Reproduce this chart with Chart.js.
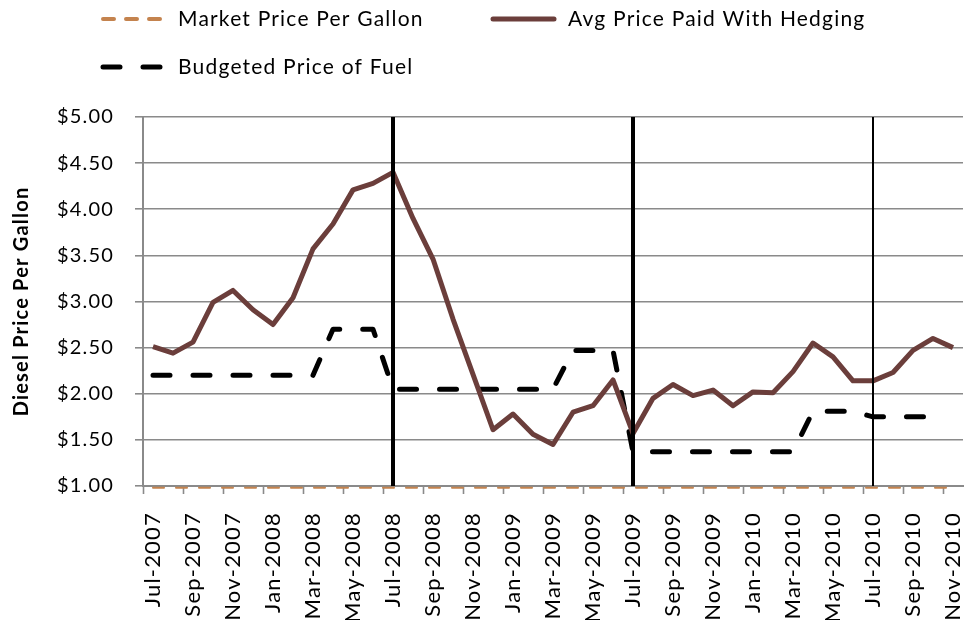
<!DOCTYPE html>
<html lang="en">
<head>
<meta charset="utf-8">
<title>Diesel Price Per Gallon</title>
<script src="https://cdn.jsdelivr.net/npm/chart.js@4.4.1/dist/chart.umd.min.js"></script>
<style>
    body { margin: 0; background: #fff; }
    #wrap { width: 966px; height: 620px; }
</style>
</head>
<body>
<div id="wrap"><canvas id="fuel-chart" width="966" height="620"></canvas></div>
<script>
"use strict";

// månader på x-axeln, Jul-2007 till Nov-2010
const months = [
    'Jul-2007', 'Aug-2007', 'Sep-2007', 'Oct-2007', 'Nov-2007', 'Dec-2007',
    'Jan-2008', 'Feb-2008', 'Mar-2008', 'Apr-2008', 'May-2008', 'Jun-2008',
    'Jul-2008', 'Aug-2008', 'Sep-2008', 'Oct-2008', 'Nov-2008', 'Dec-2008',
    'Jan-2009', 'Feb-2009', 'Mar-2009', 'Apr-2009', 'May-2009', 'Jun-2009',
    'Jul-2009', 'Aug-2009', 'Sep-2009', 'Oct-2009', 'Nov-2009', 'Dec-2009',
    'Jan-2010', 'Feb-2010', 'Mar-2010', 'Apr-2010', 'May-2010', 'Jun-2010',
    'Jul-2010', 'Aug-2010', 'Sep-2010', 'Oct-2010', 'Nov-2010'
];

// marknadspriset ligger nere vid axeln i bilden
const marketPrice = [
    0.98, 0.98, 0.98, 0.98, 0.98, 0.98, 0.98, 0.98, 0.98, 0.98, 0.98, 0.98,
    0.98, 0.98, 0.98, 0.98, 0.98, 0.98, 0.98, 0.98, 0.98, 0.98, 0.98, 0.98,
    0.98, 0.98, 0.98, 0.98, 0.98, 0.98, 0.98, 0.98, 0.98, 0.98, 0.98, 0.98,
    0.98, 0.98, 0.98, 0.98, 0.98
];

const hedgedPrice = [
    2.51, 2.44, 2.56, 2.99, 3.12, 2.91, 2.75, 3.04, 3.57, 3.84, 4.21, 4.28,
    4.40, 3.90, 3.46, 2.81, 2.21, 1.61, 1.78, 1.56, 1.45, 1.80, 1.87, 2.15,
    1.57, 1.95, 2.10, 1.98, 2.04, 1.87, 2.02, 2.01, 2.24, 2.55, 2.40, 2.14,
    2.14, 2.23, 2.47, 2.60, 2.50
];

const budgetPrice = [
    2.20, 2.20, 2.20, 2.20, 2.20, 2.20, 2.20, 2.20, 2.20, 2.70, 2.70, 2.70,
    2.05, 2.05, 2.05, 2.05, 2.05, 2.05, 2.05, 2.05, 2.05, 2.47, 2.47, 2.47,
    1.37, 1.37, 1.37, 1.37, 1.37, 1.37, 1.37, 1.37, 1.37, 1.81, 1.81, 1.81,
    1.75, 1.75, 1.75, 1.75, null
];

// y-axelns gränser och steg
const yMin = 1;
const yMax = 5;
const yStep = 0.5;

// vertikala markeringar vid varje nytt budgetår
const markerMonths = ['Jul-2008', 'Jul-2009', 'Jul-2010'];
const markerWidths = [4, 4, 2];

const gridColor = '#8a8a8a';
const fontFamily = 'Lato, "Open Sans", sans-serif';

// egen legend, två rader som i originalet
const legendSlots = [[100, 19], [490, 19], [100, 67]];

const legendPlugin = {
    id: 'fuelLegend',
    afterDraw(chart) {
        const ctx = chart.ctx;
        chart.data.datasets.forEach((ds, i) => {
            const [x, y] = legendSlots[i];
            ctx.save();
            ctx.strokeStyle = ds.borderColor;
            ctx.lineWidth = Math.max(ds.borderWidth, 4);
            ctx.lineCap = 'round';
            ctx.setLineDash(ds.borderDash || []);
            ctx.beginPath();
            ctx.moveTo(x + 3, y);
            ctx.lineTo(x + 64, y);
            ctx.stroke();
            ctx.setLineDash([]);
            ctx.fillStyle = '#000';
            ctx.font = '21px ' + fontFamily;
            ctx.textBaseline = 'middle';
            ctx.fillText(ds.label, x + 78, y);
            ctx.restore();
        });
    }
};

// svarta lodräta linjer, ritas ovanpå serierna
const markerPlugin = {
    id: 'yearMarkers',
    afterDatasetsDraw(chart) {
        const ctx = chart.ctx;
        const area = chart.chartArea;
        const xScale = chart.scales.x;
        markerMonths.forEach((m, i) => {
            const px = xScale.getPixelForValue(months.indexOf(m));
            ctx.save();
            ctx.strokeStyle = '#000';
            ctx.lineWidth = markerWidths[i];
            ctx.beginPath();
            ctx.moveTo(px, area.top);
            ctx.lineTo(px, area.bottom);
            ctx.stroke();
            ctx.restore();
        });
    }
};

// lite bredare text, liknar Excel-renderingen
const spacingPlugin = {
    id: 'letterSpacing',
    beforeDraw(chart) {
        chart.ctx.letterSpacing = '1.2px';
    }
};

const canvas = document.getElementById('fuel-chart');

new Chart(canvas, {
    type: 'line',
    data: {
        labels: months,
        datasets: [{
            label: 'Market Price Per Gallon',
            data: marketPrice,
            borderColor: '#c4834e',
            borderWidth: 2,
            borderDash: [11, 12],
            borderCapStyle: 'round',
            pointRadius: 0,
            clip: { left: 0, right: 0, top: 0, bottom: 4 }
        }, {
            label: 'Avg Price Paid With Hedging',
            data: hedgedPrice,
            borderColor: '#6b3e3b',
            borderWidth: 5,
            borderJoinStyle: 'round',
            pointRadius: 0
        }, {
            label: 'Budgeted Price of Fuel',
            data: budgetPrice,
            borderColor: '#000',
            borderWidth: 5,
            borderDash: [17, 23],
            borderCapStyle: 'round',
            borderJoinStyle: 'round',
            pointRadius: 0
        }]
    },
    options: {
        responsive: false,
        animation: false,
        layout: {
            padding: { top: 117, right: 3, left: 0, bottom: 0 }
        },
        plugins: {
            legend: { display: false },
            tooltip: { enabled: false }
        },
        scales: {
            x: {
                offset: true,
                grid: {
                    offset: true,
                    drawOnChartArea: false,
                    tickLength: 8,
                    tickWidth: 1.6,
                    tickColor: (c) => (c.index % 2 === 0 ? gridColor : 'rgba(0,0,0,0)')
                },
                border: { color: gridColor, width: 2 },
                ticks: {
                    autoSkip: false,
                    minRotation: 90,
                    maxRotation: 90,
                    padding: 18,
                    color: '#000',
                    font: { family: fontFamily, size: 22 },
                    callback: (value, index) => (index % 2 === 0 ? months[index] : '')
                },
                afterFit: (scale) => {
                    scale.height = 134;
                    scale.paddingLeft = 0;
                    scale.paddingRight = 0;
                }
            },
            y: {
                min: yMin,
                max: yMax,
                grid: {
                    color: gridColor,
                    lineWidth: 1.6,
                    tickLength: 8
                },
                border: { color: gridColor, width: 2 },
                ticks: {
                    stepSize: yStep,
                    padding: 21,
                    color: '#000',
                    font: { family: fontFamily, size: 20 },
                    callback: (value) => '$' + value.toFixed(2)
                },
                title: {
                    display: true,
                    text: 'Diesel Price Per Gallon',
                    color: '#000',
                    font: { family: fontFamily, size: 20, weight: 'bold' },
                    padding: { top: 10, bottom: 0 }
                },
                afterFit: (scale) => {
                    scale.width = 143;
                    scale.paddingTop = 0;
                    scale.paddingBottom = 0;
                }
            }
        }
    },
    plugins: [spacingPlugin, markerPlugin, legendPlugin]
});
</script>
</body>
</html>
